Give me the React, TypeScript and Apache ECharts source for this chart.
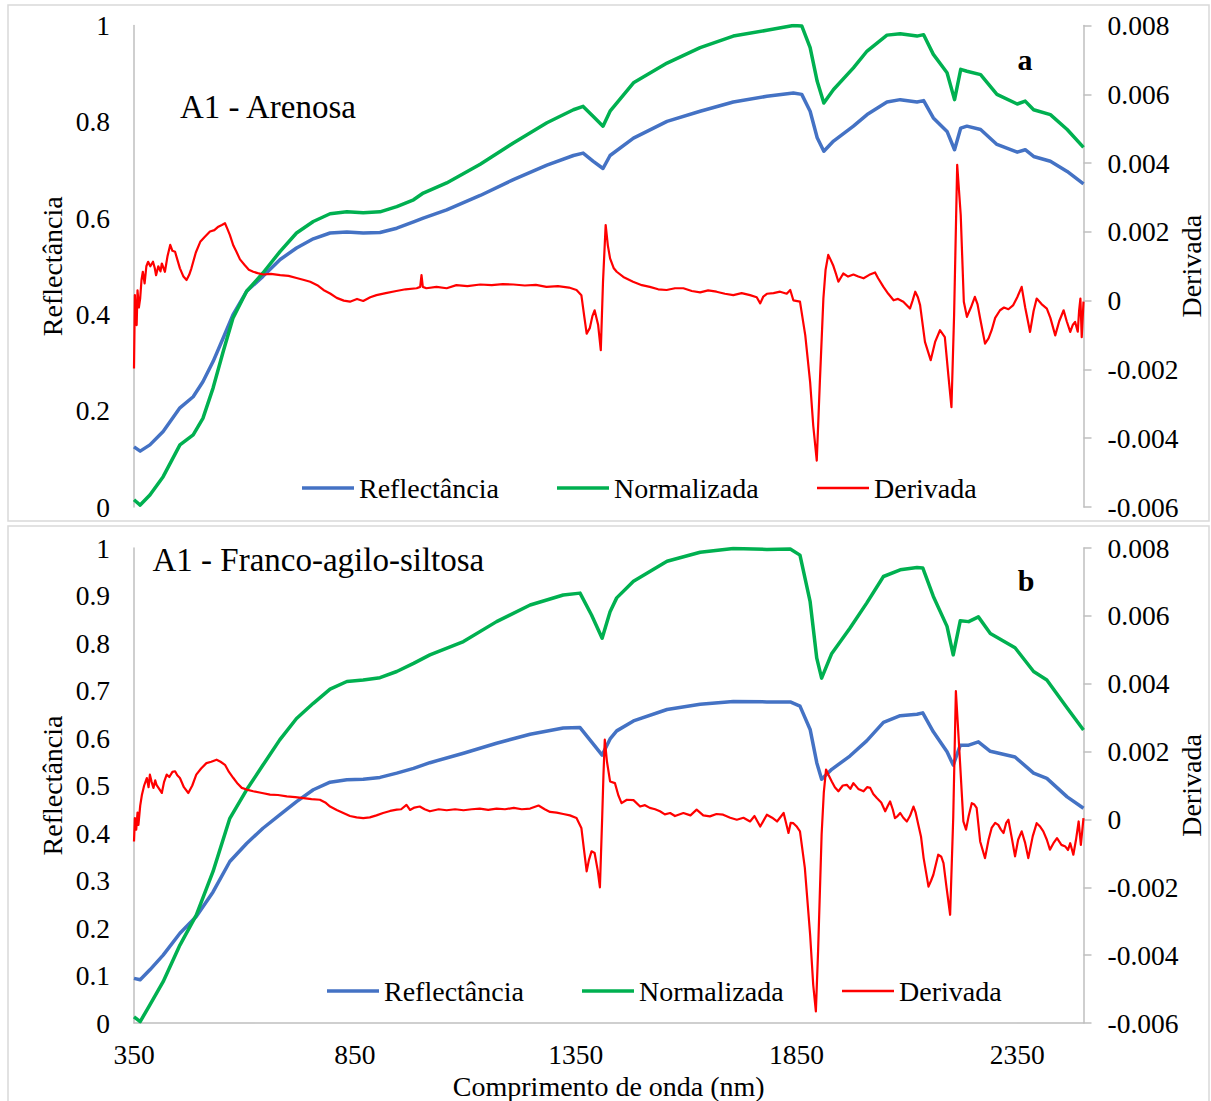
import React, { useEffect, useRef } from "react";
import * as echarts from "echarts";

// ---------- Panel a (A1 - Arenosa) ----------
const topNm = [350, 364, 386, 416, 454, 484, 506, 529, 552, 574, 605, 642, 681, 718, 756, 794, 832, 869, 907, 945, 983, 1005, 1058, 1134, 1209, 1285, 1345, 1367, 1390, 1412, 1428, 1481, 1557, 1632, 1707, 1783, 1843, 1862, 1881, 1897, 1912, 1934, 1979, 2010, 2055, 2085, 2123, 2138, 2160, 2191, 2208, 2222, 2236, 2267, 2304, 2350, 2368, 2387, 2425, 2463, 2500];
const topRefl = [0.125, 0.116, 0.129, 0.157, 0.206, 0.229, 0.26, 0.302, 0.351, 0.399, 0.448, 0.479, 0.514, 0.538, 0.557, 0.569, 0.571, 0.569, 0.57, 0.579, 0.592, 0.6, 0.617, 0.647, 0.68, 0.71, 0.73, 0.735, 0.718, 0.703, 0.73, 0.766, 0.801, 0.822, 0.841, 0.853, 0.86, 0.857, 0.822, 0.767, 0.739, 0.76, 0.791, 0.815, 0.841, 0.846, 0.841, 0.844, 0.808, 0.78, 0.742, 0.787, 0.791, 0.784, 0.753, 0.737, 0.742, 0.728, 0.718, 0.697, 0.671];
const topNorm = [0.015, 0.004, 0.025, 0.063, 0.129, 0.15, 0.184, 0.247, 0.323, 0.392, 0.448, 0.486, 0.531, 0.569, 0.593, 0.609, 0.613, 0.611, 0.613, 0.624, 0.638, 0.652, 0.673, 0.712, 0.756, 0.798, 0.825, 0.832, 0.811, 0.791, 0.822, 0.881, 0.922, 0.954, 0.978, 0.99, 1.0, 0.999, 0.954, 0.884, 0.839, 0.867, 0.912, 0.947, 0.98, 0.983, 0.978, 0.981, 0.94, 0.902, 0.846, 0.909, 0.905, 0.898, 0.857, 0.837, 0.843, 0.825, 0.815, 0.784, 0.747];

const topDerivNm = [350, 352, 354, 356, 358, 361, 364, 367, 370, 374, 378, 382, 387, 393, 397, 400, 405, 410, 413, 420, 426, 432, 437, 443, 448, 454, 462, 469, 475, 480, 490, 500, 510, 522, 532, 541, 549, 556, 561, 567, 575, 582, 590, 601, 610, 620, 630, 643, 660, 681, 700, 718, 735, 749, 765, 779, 795, 809, 825, 839, 855, 869, 885, 899, 920, 944, 965, 990, 998, 1001, 1004, 1012, 1035, 1058, 1080, 1105, 1134, 1160, 1185, 1209, 1235, 1260, 1284, 1310, 1335, 1352, 1363, 1370, 1375, 1382, 1388, 1393, 1401, 1407, 1412, 1418, 1423, 1428, 1436, 1443, 1458, 1480, 1500, 1518, 1537, 1556, 1575, 1594, 1613, 1632, 1650, 1669, 1688, 1707, 1726, 1745, 1760, 1768, 1775, 1783, 1798, 1813, 1828, 1836, 1843, 1858, 1870, 1881, 1888, 1896, 1903, 1911, 1916, 1922, 1927, 1933, 1939, 1945, 1956, 1967, 1979, 1990, 2002, 2015, 2028, 2035, 2047, 2058, 2070, 2080, 2092, 2107, 2113, 2119, 2125, 2130, 2141, 2154, 2164, 2175, 2186, 2194, 2201, 2207, 2214, 2222, 2229, 2236, 2245, 2254, 2260, 2266, 2277, 2285, 2292, 2300, 2311, 2320, 2330, 2341, 2350, 2360, 2368, 2379, 2387, 2394, 2405, 2417, 2425, 2436, 2445, 2455, 2462, 2470, 2476, 2481, 2487, 2490, 2493, 2496, 2500];
const topDeriv = [-0.00197, 0.00016, -0.0005, -0.00071, 0.0003, -0.0002, 0.00007, 0.0006, 0.00084, 0.0005, 0.001, 0.00113, 0.001, 0.00113, 0.00095, 0.00074, 0.001, 0.00085, 0.00108, 0.00084, 0.0013, 0.00162, 0.00145, 0.00142, 0.0012, 0.00094, 0.0007, 0.0006, 0.00075, 0.00094, 0.0014, 0.00171, 0.00185, 0.00201, 0.00205, 0.00215, 0.0022, 0.00225, 0.0021, 0.00191, 0.0016, 0.00142, 0.0012, 0.00103, 0.0009, 0.00084, 0.0008, 0.00076, 0.00078, 0.00074, 0.00072, 0.00066, 0.0006, 0.00055, 0.00045, 0.00031, 0.0002, 0.00008, 0.0, -0.00003, 0.00005, -0.00001, 0.0001, 0.00016, 0.00022, 0.00028, 0.00033, 0.00036, 0.0004, 0.00074, 0.0004, 0.00036, 0.0004, 0.00036, 0.00045, 0.00042, 0.00047, 0.00045, 0.00048, 0.00047, 0.00044, 0.00046, 0.0004, 0.00042, 0.00038, 0.00031, 0.00016, -0.0005, -0.00096, -0.0008, -0.00045, -0.00028, -0.00071, -0.00144, 0.00055, 0.0022, 0.0016, 0.00123, 0.00095, 0.00084, 0.00069, 0.00055, 0.00045, 0.0004, 0.00033, 0.00031, 0.00036, 0.00036, 0.00028, 0.00024, 0.0003, 0.00026, 0.0002, 0.00016, 0.00022, 0.00016, 0.0001, -0.00008, 0.00012, 0.0002, 0.00022, 0.00026, 0.0002, 0.00031, 0.00001, -0.00003, -0.00101, -0.00237, -0.00363, -0.00465, -0.00237, 0.00006, 0.0009, 0.00133, 0.0012, 0.00103, 0.0008, 0.00055, 0.00079, 0.0007, 0.00076, 0.0007, 0.00065, 0.00075, 0.00082, 0.00065, 0.0004, 0.0002, 0.00001, 0.00005, -0.00003, -0.00023, 0.0, 0.00026, 0.0001, -0.00013, -0.0012, -0.00173, -0.0012, -0.00086, -0.00106, -0.00217, -0.0031, -0.00042, 0.00395, 0.00249, -0.00003, -0.00047, -0.0002, 0.00011, -0.0001, -0.00052, -0.00125, -0.0011, -0.00086, -0.0005, -0.00028, -0.0002, -0.00025, -0.00013, 0.0001, 0.0004, -0.0002, -0.00091, -0.0003, 0.00006, -0.0001, -0.00023, -0.0005, -0.00101, -0.0006, -0.00028, -0.0006, -0.00091, -0.0007, -0.00062, -0.0009, -0.0003, 0.00006, -0.00106, -0.00003];

// ---------- Panel b (A1 - Franco-agilo-siltosa) ----------
const botNm = [350, 364, 386, 416, 454, 491, 529, 567, 605, 642, 680, 718, 756, 794, 832, 869, 907, 945, 983, 1020, 1096, 1171, 1247, 1322, 1360, 1386, 1410, 1428, 1443, 1481, 1557, 1632, 1707, 1783, 1836, 1858, 1881, 1896, 1907, 1930, 1971, 2009, 2047, 2085, 2123, 2136, 2160, 2191, 2205, 2221, 2240, 2262, 2289, 2345, 2387, 2417, 2463, 2500];
const botRefl = [0.094, 0.091, 0.112, 0.143, 0.189, 0.224, 0.276, 0.34, 0.378, 0.41, 0.438, 0.466, 0.491, 0.507, 0.512, 0.513, 0.517, 0.526, 0.536, 0.548, 0.568, 0.589, 0.608, 0.621, 0.622, 0.592, 0.564, 0.598, 0.615, 0.636, 0.66, 0.671, 0.677, 0.676, 0.676, 0.667, 0.618, 0.548, 0.513, 0.534, 0.562, 0.594, 0.633, 0.647, 0.65, 0.653, 0.613, 0.571, 0.543, 0.585, 0.585, 0.592, 0.572, 0.56, 0.526, 0.515, 0.476, 0.452];
const botNorm = [0.013, 0.003, 0.038, 0.087, 0.164, 0.227, 0.319, 0.431, 0.491, 0.543, 0.596, 0.641, 0.673, 0.703, 0.719, 0.722, 0.727, 0.74, 0.757, 0.775, 0.803, 0.845, 0.88, 0.901, 0.905, 0.859, 0.81, 0.866, 0.895, 0.93, 0.972, 0.991, 0.999, 0.997, 0.998, 0.985, 0.887, 0.768, 0.726, 0.778, 0.831, 0.884, 0.94, 0.954, 0.959, 0.958, 0.898, 0.835, 0.775, 0.847, 0.845, 0.855, 0.82, 0.79, 0.74, 0.722, 0.663, 0.617];

const botDerivNm = [350, 352, 355, 358, 360, 364, 368, 373, 379, 383, 386, 390, 394, 398, 401, 407, 413, 418, 424, 430, 437, 443, 448, 454, 463, 473, 482, 491, 502, 514, 525, 537, 546, 556, 565, 575, 585, 594, 605, 620, 640, 658, 676, 696, 715, 734, 752, 771, 783, 794, 809, 824, 839, 854, 869, 884, 899, 914, 930, 945, 955, 967, 975, 985, 997, 1008, 1020, 1040, 1058, 1077, 1096, 1115, 1133, 1152, 1171, 1190, 1210, 1228, 1247, 1266, 1280, 1292, 1307, 1322, 1337, 1352, 1363, 1369, 1375, 1380, 1386, 1393, 1400, 1405, 1410, 1413, 1416, 1421, 1428, 1439, 1447, 1454, 1466, 1481, 1496, 1507, 1518, 1530, 1541, 1552, 1564, 1575, 1594, 1610, 1624, 1639, 1654, 1669, 1684, 1700, 1715, 1730, 1745, 1755, 1768, 1783, 1795, 1806, 1821, 1832, 1837, 1843, 1850, 1858, 1869, 1881, 1888, 1894, 1899, 1907, 1912, 1917, 1923, 1930, 1937, 1945, 1955, 1964, 1972, 1979, 1990, 2002, 2010, 2017, 2024, 2032, 2042, 2051, 2057, 2062, 2068, 2073, 2079, 2085, 2092, 2100, 2107, 2115, 2120, 2126, 2132, 2138, 2149, 2155, 2160, 2171, 2178, 2183, 2190, 2198, 2205, 2211, 2219, 2228, 2234, 2240, 2247, 2252, 2258, 2266, 2277, 2285, 2292, 2300, 2307, 2313, 2319, 2325, 2330, 2337, 2345, 2352, 2360, 2368, 2375, 2385, 2394, 2401, 2409, 2417, 2424, 2432, 2440, 2450, 2459, 2465, 2470, 2477, 2483, 2489, 2494, 2500];
const botDeriv = [-0.00065, 0.00004, -0.0003, 0.0002, -0.00016, 0.0004, 0.00073, 0.001, 0.00122, 0.00095, 0.00132, 0.0011, 0.00093, 0.00115, 0.00102, 0.0009, 0.00078, 0.0011, 0.00132, 0.00125, 0.0014, 0.00142, 0.0013, 0.00122, 0.00095, 0.00078, 0.001, 0.00132, 0.0015, 0.00166, 0.0017, 0.00176, 0.0017, 0.00161, 0.0014, 0.00122, 0.00105, 0.00093, 0.00088, 0.00083, 0.00078, 0.00073, 0.00072, 0.00068, 0.00066, 0.00063, 0.0006, 0.00058, 0.0005, 0.00038, 0.00028, 0.00019, 0.0001, 0.00006, 0.00004, 0.00006, 0.00012, 0.00019, 0.00025, 0.00029, 0.0003, 0.00043, 0.00028, 0.00035, 0.00038, 0.0003, 0.00024, 0.0003, 0.00027, 0.0003, 0.00027, 0.0003, 0.00032, 0.00028, 0.00032, 0.0003, 0.00034, 0.0003, 0.00032, 0.00041, 0.0003, 0.00022, 0.0002, 0.00016, 0.00012, 0.00004, -0.00025, -0.0009, -0.00153, -0.0012, -0.00094, -0.00099, -0.0015, -0.002, 0.0, 0.0013, 0.00235, 0.0017, 0.00112, 0.00107, 0.0007, 0.00048, 0.00058, 0.00057, 0.00038, 0.00042, 0.00034, 0.0003, 0.00024, 0.00015, 0.00019, 0.0001, 0.00019, 0.00012, 0.00029, 0.00012, 0.00009, 0.00016, 0.00014, 0.00005, -0.00001, 0.00005, -0.00006, 0.0001, -0.00021, 0.00014, 0.00005, -0.00006, 0.00019, -0.0004, -0.0001, -0.00011, -0.0002, -0.00035, -0.00143, -0.0034, -0.00488, -0.00566, -0.00389, -0.00045, 0.0008, 0.00147, 0.0013, 0.00112, 0.00095, 0.00083, 0.001, 0.00102, 0.0009, 0.00107, 0.0009, 0.00083, 0.00095, 0.00093, 0.00075, 0.00063, 0.0005, 0.00024, 0.0004, 0.00053, 0.0003, 0.00004, 0.0001, 0.00019, 0.00005, -0.00006, 0.0001, 0.00038, 0.0002, -0.00016, -0.0005, -0.00114, -0.00198, -0.0018, -0.00163, -0.00104, -0.0011, -0.00129, -0.00202, -0.00281, 0.00004, 0.00378, 0.00201, -0.00006, -0.0003, 0.0001, 0.00048, 0.00045, 0.00034, -0.00065, -0.00114, -0.0006, -0.00025, -0.0001, -0.00016, -0.0003, -0.0004, -0.0001, -0.00001, -0.0005, -0.00109, -0.0006, -0.00035, -0.0007, -0.00114, -0.0005, -0.00011, -0.0002, -0.00035, -0.0006, -0.00089, -0.0007, -0.00055, -0.00075, -0.0008, -0.0009, -0.0007, -0.00104, -0.0006, -0.00006, -0.00075, 0.00004];

const seriesNames = ["Reflectância", "Normalizada", "Derivada"];
const seriesColors = ["#4472C4", "#00B050", "#FF0000"];
const panelTitles = ["A1 - Arenosa", "A1 - Franco-agilo-siltosa"];
const panelLetters = ["a", "b"];
const xTitle = "Comprimento de onda (nm)";

const FONT = "'Liberation Serif', 'Times New Roman', serif";
const AXIS_GRAY = "#bfbfbf";

function pairs(xs: number[], ys: number[]) {
  return xs.map((x, i) => [x, ys[i]]);
}

export default function App() {
  const ref = useRef<HTMLDivElement>(null);

  useEffect(() => {
    if (!ref.current) return;
    const chart = echarts.init(ref.current, null, { renderer: "svg" });

    const tickLabel = { fontFamily: FONT, fontSize: 27.5, color: "#000", lineHeight: 28 };
    const nameStyle = { fontFamily: FONT, fontSize: 28, color: "#000", lineHeight: 28 };
    const plain = (v: number) => String(Math.round(v * 1e6) / 1e6);

    const leftAxis = (gridIndex: number, interval: number) => ({
      type: "value",
      gridIndex,
      position: "left",
      min: 0,
      max: 1,
      interval,
      axisLine: { show: true, lineStyle: { color: AXIS_GRAY, width: 1.5 } },
      axisTick: { show: false },
      splitLine: { show: false },
      axisLabel: { ...tickLabel, margin: 24, formatter: plain },
      name: "Reflectância",
      nameLocation: "middle",
      nameGap: 68,
      nameMoveOverlap: false,
      nameTextStyle: nameStyle,
    });
    const rightAxis = (gridIndex: number) => ({
      type: "value",
      gridIndex,
      position: "right",
      min: -0.006,
      max: 0.008,
      interval: 0.002,
      axisLine: { show: true, lineStyle: { color: AXIS_GRAY, width: 1.5 } },
      axisTick: { show: true, inside: false, length: 8, lineStyle: { color: AXIS_GRAY, width: 1.5 } },
      splitLine: { show: false },
      axisLabel: { ...tickLabel, margin: 24, formatter: plain },
      name: "Derivada",
      nameLocation: "middle",
      nameGap: 94,
      nameMoveOverlap: false,
      nameTextStyle: nameStyle,
    });

    const mkLine = (name: string, color: string, width: number, xi: number, yi: number, data: number[][]) => ({
      type: "line",
      name,
      xAxisIndex: xi,
      yAxisIndex: yi,
      data,
      showSymbol: false,
      symbol: "none",
      smooth: false,
      lineStyle: { color, width, join: "round" },
      itemStyle: { color },
      emphasis: { disabled: true },
    });

    const legendPos = [
      { y: 488, xs: [302, 557, 817] },
      { y: 991, xs: [327, 582, 842] },
    ];
    const legends: any[] = [];
    legendPos.forEach((p) => {
      seriesNames.forEach((n, i) => {
        legends.push({
          data: [n],
          left: p.xs[i],
          top: p.y - 14,
          padding: 0,
          icon: "rect",
          itemWidth: 52,
          itemHeight: i === 2 ? 2.5 : 3.5,
          itemGap: 0,
          selectedMode: false,
          textStyle: { fontFamily: FONT, fontSize: 28, color: "#000", lineHeight: 28 },
        });
      });
    });

    const gridBase = { left: 134, right: 127.5, outerBoundsMode: "none", containLabel: false };

    const option: any = {
      animation: false,
      backgroundColor: "#fff",
      textStyle: { fontFamily: FONT },
      grid: [
        { ...gridBase, top: 25.5, height: 481.5 },
        { ...gridBase, top: 548, height: 475 },
      ],
      xAxis: [
        { type: "value", gridIndex: 0, min: 350, max: 2500, show: false },
        {
          type: "value",
          gridIndex: 1,
          min: 350,
          max: 2500,
          interval: 500,
          axisLine: { show: true, lineStyle: { color: AXIS_GRAY, width: 1.5 } },
          axisTick: { show: false },
          splitLine: { show: false },
          axisLabel: { ...tickLabel, lineHeight: 24, margin: 19, showMaxLabel: false, formatter: plain },
          name: xTitle,
          nameLocation: "middle",
          nameGap: 51,
          nameMoveOverlap: false,
          nameTextStyle: { ...nameStyle, lineHeight: 24 },
        },
      ],
      yAxis: [leftAxis(0, 0.2), rightAxis(0), leftAxis(1, 0.1), rightAxis(1)],
      legend: legends,
      series: [
        mkLine(seriesNames[0], seriesColors[0], 3.5, 0, 0, pairs(topNm, topRefl)),
        mkLine(seriesNames[1], seriesColors[1], 3.5, 0, 0, pairs(topNm, topNorm)),
        mkLine(seriesNames[2], seriesColors[2], 2.2, 0, 1, pairs(topDerivNm, topDeriv)),
        mkLine(seriesNames[0], seriesColors[0], 3.5, 1, 2, pairs(botNm, botRefl)),
        mkLine(seriesNames[1], seriesColors[1], 3.5, 1, 2, pairs(botNm, botNorm)),
        mkLine(seriesNames[2], seriesColors[2], 2.2, 1, 3, pairs(botDerivNm, botDeriv)),
      ],
      graphic: [
        { type: "rect", shape: { x: 8, y: 5, width: 1201, height: 516 }, style: { fill: "none", stroke: "#d9d9d9", lineWidth: 1.5 }, silent: true },
        { type: "rect", shape: { x: 8, y: 526, width: 1201, height: 590 }, style: { fill: "none", stroke: "#d9d9d9", lineWidth: 1.5 }, silent: true },
        { type: "text", x: 180, y: 107, style: { text: panelTitles[0], font: `33px ${FONT}`, fill: "#000", align: "left", verticalAlign: "middle", textAlign: "left", textVerticalAlign: "middle" } },
        { type: "text", x: 152.5, y: 560, style: { text: panelTitles[1], font: `33px ${FONT}`, fill: "#000", align: "left", verticalAlign: "middle", textAlign: "left", textVerticalAlign: "middle" } },
        { type: "text", x: 1025, y: 59, style: { text: panelLetters[0], font: `bold 30px ${FONT}`, fill: "#000", align: "center", verticalAlign: "middle", textAlign: "center", textVerticalAlign: "middle" } },
        { type: "text", x: 1026, y: 580, style: { text: panelLetters[1], font: `bold 30px ${FONT}`, fill: "#000", align: "center", verticalAlign: "middle", textAlign: "center", textVerticalAlign: "middle" } },
      ],
    };

    chart.setOption(option);
    return () => chart.dispose();
  }, []);

  return (
    <div style={{ position: "fixed", left: 0, top: 0, width: 1211, height: 1101, background: "#fff" }}>
      <div ref={ref} style={{ width: 1211, height: 1101 }} />
    </div>
  );
}
